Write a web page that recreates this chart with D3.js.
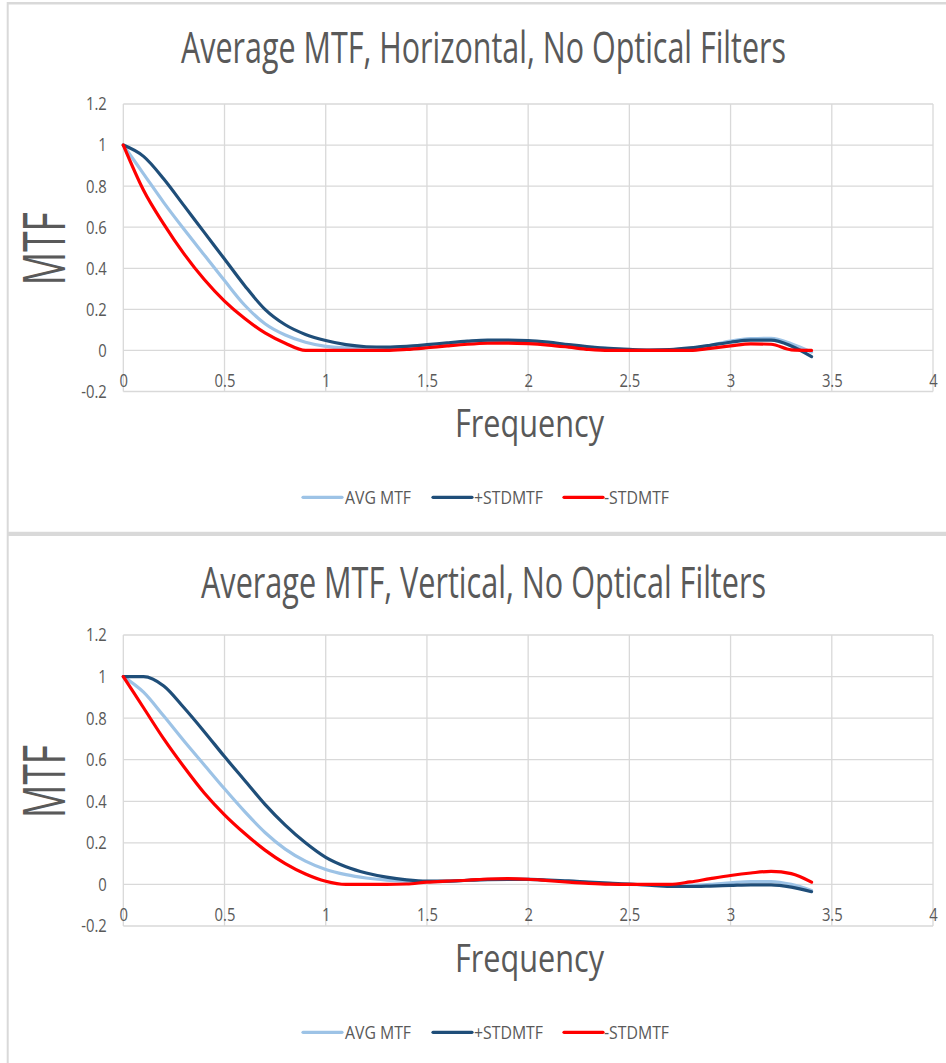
<!DOCTYPE html>
<html><head><meta charset="utf-8">
<script src="https://cdn.jsdelivr.net/npm/d3@7"></script>
<style>body{margin:0;background:#fff} svg{display:block}</style>
</head><body>
<svg id="c" width="946" height="1063"></svg>
<script>
// ---------- DATA ----------
const freq = [0,0.1,0.2,0.3,0.4,0.5,0.6,0.7,0.8,0.9,1.0,1.1,1.2,1.3,1.4,1.5,1.6,1.7,1.8,1.9,2.0,2.1,2.2,2.3,2.4,2.5,2.6,2.7,2.8,2.9,3.0,3.1,3.2,3.3,3.4];

const horizAvg   = [1.0,0.86,0.72,0.59,0.465,0.34,0.22,0.13,0.075,0.04,0.02,0.012,0.011,0.013,0.018,0.025,0.033,0.040,0.045,0.046,0.044,0.037,0.026,0.016,0.008,0.003,0.001,0.003,0.010,0.025,0.045,0.057,0.059,0.033,-0.008];
const horizPlus  = [1.0,0.945,0.835,0.705,0.575,0.445,0.315,0.20,0.125,0.078,0.048,0.028,0.018,0.016,0.020,0.028,0.037,0.045,0.050,0.050,0.048,0.040,0.028,0.018,0.010,0.005,0.002,0.004,0.012,0.025,0.040,0.050,0.050,0.022,-0.030];
const horizMinus = [1.0,0.78,0.615,0.47,0.345,0.24,0.155,0.085,0.035,0.0,0.0,0.0,0.0,0.0,0.005,0.013,0.022,0.030,0.035,0.036,0.033,0.026,0.016,0.005,0.0,0.0,0.0,0.0,0.0,0.010,0.022,0.032,0.030,0.003,0.0];

const vertAvg    = [1.0,0.925,0.81,0.69,0.575,0.46,0.35,0.25,0.17,0.112,0.072,0.047,0.031,0.021,0.015,0.013,0.015,0.020,0.024,0.025,0.024,0.020,0.014,0.008,0.003,0.0,-0.003,-0.006,-0.005,0.0,0.008,0.014,0.014,0.0,-0.029];
const vertPlus   = [1.0,1.0,0.955,0.85,0.735,0.615,0.50,0.385,0.285,0.20,0.13,0.085,0.055,0.035,0.022,0.016,0.016,0.020,0.023,0.024,0.024,0.021,0.017,0.011,0.006,0.002,-0.004,-0.009,-0.010,-0.008,-0.005,-0.002,-0.002,-0.013,-0.035];
const vertMinus  = [1.0,0.85,0.70,0.565,0.44,0.335,0.245,0.165,0.10,0.05,0.015,0.0,0.0,0.0,0.002,0.011,0.016,0.020,0.026,0.028,0.025,0.018,0.011,0.005,0.001,0.0,0.0,0.0,0.012,0.028,0.043,0.055,0.063,0.052,0.011];

const xTicks = [0,0.5,1,1.5,2,2.5,3,3.5,4];
const yTicks = [-0.2,0,0.2,0.4,0.6,0.8,1,1.2];
const seriesNames = ["AVG MTF","+STDMTF","-STDMTF"];
const chartTitles = ["Average MTF, Horizontal, No Optical Filters","Average MTF, Vertical, No Optical Filters"];
const xTitle = "Frequency";
const yTitle = "MTF";

// ---------- STYLE / LAYOUT ----------
const colors = ["#9dc3e6","#1f4e79","#ff0000"];
const textColor = "#595959";
const gridColor = "#d9d9d9";
const font = "'Open Sans', 'Noto Sans', sans-serif";

const charts = [
  {title: chartTitles[0], series: [horizAvg, horizPlus, horizMinus], top: 104, bottom: 391.5, dy: 0,   titleW: 605},
  {title: chartTitles[1], series: [vertAvg,  vertPlus,  vertMinus],  top: 635, bottom: 926,   dy: 535, titleW: 565}
];
const plotLeft = 123.3, plotRight = 933;

const svg = d3.select("#c");
svg.append("rect").attr("width",946).attr("height",1063).attr("fill","#fff");

// frame lines
svg.append("line").attr("x1",7).attr("x2",946).attr("y1",3.3).attr("y2",3.3).attr("stroke",gridColor).attr("stroke-width",2.5);
svg.append("line").attr("x1",7.7).attr("x2",7.7).attr("y1",2).attr("y2",1063).attr("stroke",gridColor).attr("stroke-width",2);
svg.append("line").attr("x1",7).attr("x2",946).attr("y1",533.8).attr("y2",533.8).attr("stroke",gridColor).attr("stroke-width",4.3);

function squeeze(sel, factor){
  sel.each(function(){
    const w = this.getComputedTextLength();
    this.setAttribute("textLength", w*factor);
    this.setAttribute("lengthAdjust","spacingAndGlyphs");
  });
}
function fitTo(sel, width){
  sel.attr("textLength", width).attr("lengthAdjust","spacingAndGlyphs");
}
// text drawn at a base size and stretched in glyph height to the wanted size
function tallText(parent, str, x, y, rot, baseSize, wantSize, width){
  const t = parent.append("text")
    .attr("transform",`translate(${x},${y}) rotate(${rot}) scale(1,${wantSize/baseSize})`)
    .attr("text-anchor","middle").attr("font-family",font).attr("font-size",baseSize)
    .attr("fill",textColor).text(str);
  fitTo(t, width);
  return t;
}
const fmt = d => String(+d.toFixed(1));

charts.forEach((c) => {
  const g = svg.append("g");
  const x = d3.scaleLinear().domain([0,4]).range([plotLeft, plotRight]);
  const y = d3.scaleLinear().domain([-0.2,1.2]).range([c.bottom, c.top]);

  // gridlines
  g.append("g").selectAll("line").data(yTicks).join("line")
    .attr("x1",plotLeft).attr("x2",plotRight)
    .attr("y1",d=>y(d)).attr("y2",d=>y(d))
    .attr("stroke",gridColor).attr("stroke-width",1.3);
  g.append("g").selectAll("line").data(xTicks).join("line")
    .attr("y1",c.top).attr("y2",c.bottom)
    .attr("x1",d=>x(d)).attr("x2",d=>x(d))
    .attr("stroke",gridColor).attr("stroke-width",1.3);

  // axes labels
  const ax = g.append("g").attr("transform",`translate(0,${y(0)})`)
    .call(d3.axisBottom(x).tickValues(xTicks).tickFormat(fmt).tickSize(0).tickPadding(23.5));
  const ay = g.append("g").attr("transform",`translate(${plotLeft},0)`)
    .call(d3.axisLeft(y).tickValues(yTicks).tickFormat(fmt).tickSize(0).tickPadding(16.5));
  [ax, ay].forEach(a => {
    a.select(".domain").remove();
    a.selectAll("text").attr("fill",textColor).attr("font-family",font).attr("font-size",18.5);
    squeeze(a.selectAll("text"), 0.8);
  });

  // series lines
  const line = d3.line().x((d,i)=>x(freq[i])).y(d=>y(d)).curve(d3.curveMonotoneX);
  c.series.forEach((s,i) => {
    g.append("path").datum(s).attr("d",line).attr("fill","none")
      .attr("stroke",colors[i]).attr("stroke-width",3.2).attr("stroke-linecap","round").attr("stroke-linejoin","round");
  });

  // chart title
  tallText(g, c.title, 483.5, 63+c.dy, 0, 28, 43, c.titleW);

  // x axis title
  tallText(g, xTitle, 529.5, 437+c.dy, 0, 28, 38, 149);

  // y axis title
  const cy = (c.top + c.bottom)/2 + 1;
  tallText(g, yTitle, 65, cy, -90, 30, 58, 73);

  // legend
  const legY = 497.3 + c.dy;
  const legItems = [{x1:303,x2:342,tx:345,w:66},{x1:433,x2:472,tx:474,w:69},{x1:564,x2:603,tx:604,w:65}];
  seriesNames.forEach((n,i) => {
    const it = legItems[i];
    g.append("line").attr("x1",it.x1).attr("x2",it.x2).attr("y1",legY).attr("y2",legY)
      .attr("stroke",colors[i]).attr("stroke-width",3.2).attr("stroke-linecap","round");
    g.append("text").attr("x",it.tx).attr("y",legY+6.7)
      .attr("font-family",font).attr("font-size",18.5).attr("fill",textColor)
      .text(n).call(fitTo,it.w);
  });
});
</script>
</body></html>
